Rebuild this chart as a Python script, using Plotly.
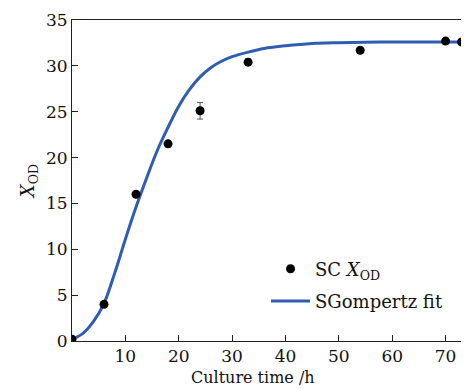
import plotly.graph_objects as go

# Measured data (SC X_OD)
time_h = [0, 6, 12, 18, 24, 33, 54, 70, 73]
x_od = [0.2, 4.0, 16.0, 21.5, 25.1, 30.4, 31.7, 32.7, 32.6]
x_od_err = [0.0, 0.0, 0.0, 0.0, 0.9, 0.35, 0.2, 0.2, 0.1]

# SGompertz fit curve
fit_t = [0, 2, 4, 6, 8, 10, 12, 14, 16, 18, 20, 22, 24, 26, 28, 30, 33, 36, 40, 45, 50, 55, 60, 65, 70, 74]
fit_y = [0.2, 0.8, 2.1, 4.1, 7.4, 11.1, 14.6, 17.8, 20.8, 23.3, 25.6, 27.4, 28.8, 29.8, 30.5, 31.0, 31.5, 31.9, 32.2, 32.45, 32.53, 32.57, 32.6, 32.6, 32.6, 32.6]

x_ticks = [10, 20, 30, 40, 50, 60, 70]
y_ticks = [0, 5, 10, 15, 20, 25, 30, 35]

FONT = "DejaVu Serif"
BLUE = "#2f5db4"

fig = go.Figure()
fig.add_trace(go.Scatter(
    x=fit_t, y=fit_y, mode="lines", line=dict(color=BLUE, width=3, shape="spline"),
    name="SGompertz fit", legend="legend2", showlegend=True))
fig.add_trace(go.Scatter(
    x=time_h, y=x_od, mode="markers",
    marker=dict(color="black", size=9),
    error_y=dict(type="data", array=x_od_err, visible=True, color="#555", thickness=1, width=3),
    name="SC <i>X</i><sub>OD</sub>", legend="legend", showlegend=True))

axis_common = dict(showline=True, linecolor="#222", linewidth=1, mirror=True,
                   ticks="inside", ticklen=6, tickcolor="#222", showgrid=False, zeroline=False,
                   tickfont=dict(family=FONT, size=17, color="#111"))

fig.update_layout(
    width=461, height=381,
    margin=dict(l=64, r=1, t=12, b=48),
    showlegend=True,
    plot_bgcolor="white", paper_bgcolor="white",
    font=dict(family=FONT, color="#111"),
    xaxis=dict(range=[0, 74.2], tickvals=x_ticks, **axis_common),
    yaxis=dict(range=[0, 35], tickvals=y_ticks,
               title=dict(text="<i>X</i><sub>OD</sub>", font=dict(family=FONT, size=18), standoff=6),
               **axis_common),
    legend=dict(x=0.49, y=0.224, xanchor="left", yanchor="middle", bgcolor="rgba(0,0,0,0)",
                font=dict(family=FONT, size=18), itemwidth=39),
    legend2=dict(x=0.49, y=0.124, xanchor="left", yanchor="middle", bgcolor="rgba(0,0,0,0)",
                 font=dict(family=FONT, size=18), itemwidth=39),
    annotations=[dict(text="Culture time /h", xref="paper", yref="paper", x=0.458, y=-0.115,
                      xanchor="center", yanchor="middle", showarrow=False,
                      font=dict(family=FONT, size=16, color="#111"))],
)

fig.write_html("out.html")
